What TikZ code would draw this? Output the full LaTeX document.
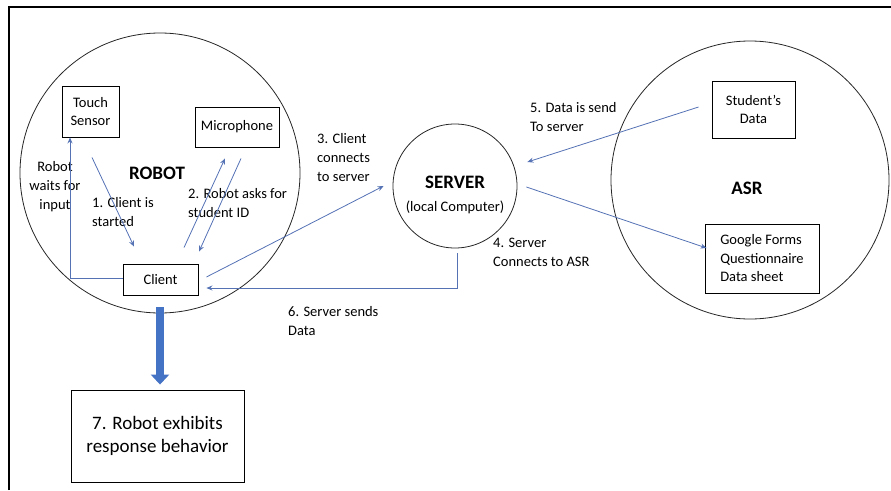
\documentclass[tikz,border=0pt]{standalone}
\usepackage{fontspec}
\setmainfont{Carlito}
\usetikzlibrary{positioning}
\usetikzlibrary{arrows.meta}
\definecolor{flow}{RGB}{84,114,180}
\definecolor{bigflow}{RGB}{68,114,196}

\begin{document}
\begin{tikzpicture}[x=1pt,y=-1pt]
        \tikzstyle{part}=[draw=black, line width=0.9pt, align=center,
            inner sep=0pt, font=\fontsize{14.5}{18.5}\selectfont]
        \tikzstyle{zone}=[draw=black!85, line width=0.8pt, circle, inner sep=0pt]
        \tikzstyle{note}=[align=left, anchor=west, inner sep=0pt,
            font=\fontsize{14.5}{19}\selectfont]
        \tikzstyle{title}=[font=\fontsize{19}{23}\selectfont\bfseries]
        \tikzstyle{link}=[draw=flow, line width=0.8pt, -{Stealth[length=6pt,width=5pt]}]

            \useasboundingbox (0,0) rectangle (891,490);
            \draw[line width=2pt] (9,490) -- (9,7) -- (891,7);

            % the three parts
            \node[zone, minimum size=280pt] (robot) at (160,173) {};
            \node[zone, minimum size=124pt] (server) at (455,186) {};
            \node[zone, minimum size=278pt] (asr) at (750,180) {};

            \node[title] (robottitle) at (157,173) {ROBOT};
            \node[align=center, inner sep=0pt, font=\fontsize{14.5}{23}\selectfont]
                (servertitle) at (455,195)
                {{\fontsize{19}{23}\selectfont\bfseries SERVER}\\(local Computer)};
            \node[title] (asrtitle) at (747,188) {ASR};

            \node[part, minimum width=57pt, minimum height=51pt] (touch) at (90.5,111.5) {Touch\\Sensor};
            \node[part, minimum width=84pt, minimum height=40pt] (mic) at (237,127) {Microphone};
            \node[part, minimum width=75pt, minimum height=31pt] (client) at (160.5,279.5) {Client};
            \node[part, minimum width=83pt, minimum height=57pt] (data) at (753.5,109.5) {Student’s\\Data};
            \node[part, minimum width=114pt, minimum height=69pt, align=left]
                (forms) at (762,258.5) {Google Forms\\Questionnaire\\Data sheet};
            \node[part, minimum width=173pt, minimum height=92pt, font=\fontsize{19}{23}\selectfont]
                (response) at (157.5,436) {7. Robot exhibits\\response behavior};

            % step labels
            \node[note, align=center, anchor=center] (wait) at (55,187) {Robot\\waits for\\input};
            \node[note] (step1) at (92,212) {1. Client is\\started};
            \node[note] (step2) at (188,203) {2. Robot asks for\\student ID};
            \node[note] (step3) at (317,158) {3. Client\\connects\\to server};
            \node[note] (step4) at (493,252) {4. Server\\Connects to ASR};
            \node[note] (step5) at (530,117) {5. Data is send\\To server};
            \node[note] (step6) at (288,321) {6. Server sends\\Data};

            \draw[link] ([xshift=1.5pt,yshift=-20pt]touch.south) -- ([xshift=-26.5pt,yshift=17pt]client.north);
            \draw[link] ([xshift=23.5pt,yshift=16pt]client.north) -- ([xshift=-12pt,yshift=-11pt]mic.south);
            \draw[link] ([xshift=4pt,yshift=-11pt]mic.south) -- ([xshift=38.5pt,yshift=12pt]client.north);
            \draw[link] ([yshift=1.5pt]client.west) -| ([xshift=-20.5pt]touch.south);
            \draw[link] ([xshift=8pt,yshift=2.5pt]client.east) -- ([xshift=-9pt]server.west);
            \draw[link] ([xshift=2pt,yshift=-5pt]server.south) |- ([xshift=8pt,yshift=-8.5pt]client.east);
            \draw[link] ([xshift=-13pt,yshift=2.5pt]data.west) -- ([xshift=10pt,yshift=24pt]server.east);
            \draw[link] ([xshift=9pt,yshift=-1pt]server.east) -- ([xshift=2pt,yshift=10.5pt]forms.west);

            \draw[draw=bigflow, line width=8pt, -{Triangle[length=10pt,width=18pt]}]
            ([yshift=6pt]robot.south) -- ([xshift=2.5pt,yshift=5pt]response.north);
        \end{tikzpicture}
\end{document}
